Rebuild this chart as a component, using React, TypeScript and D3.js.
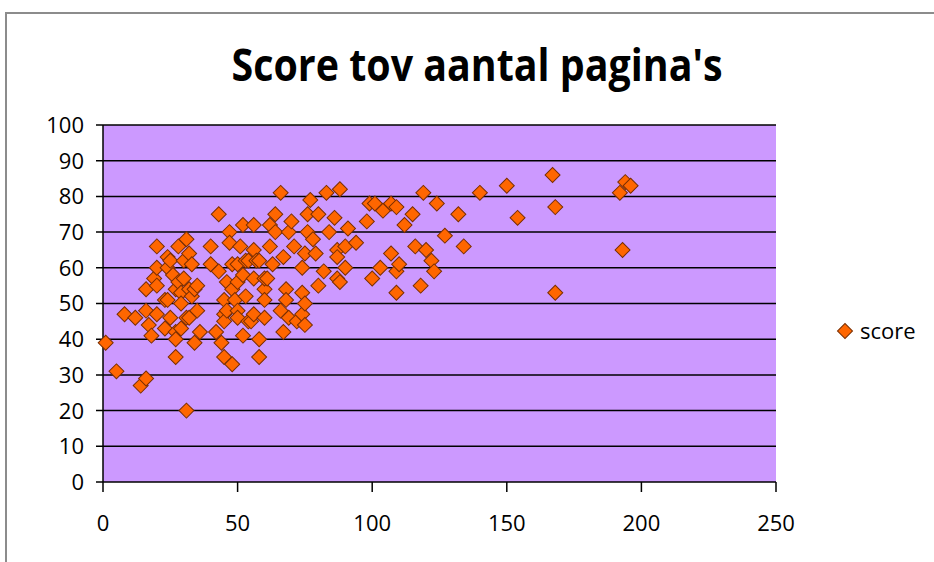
import React, { useEffect, useRef } from "react";
import * as d3 from "d3";

// number of pages per report
const pages = [
  1, 5, 8, 12, 14, 16, 16, 16, 17, 18, 19, 20, 20, 20, 20, 23, 23, 24, 24, 24,
  25, 25, 26, 27, 27, 27, 27, 28, 28, 29, 29, 29, 30, 30, 31, 31, 32, 32, 32, 33,
  33, 34, 34, 35, 35, 36, 31,
  40, 40, 42, 43, 43, 44, 45, 45, 45, 45, 46, 46, 47, 47, 48, 48, 48, 49, 50, 50,
  50, 50, 51, 52, 52, 52, 53, 53, 54, 54, 55, 56, 56, 56, 56, 57, 58, 58, 58, 60,
  60, 60, 60, 61, 62, 62, 63, 64, 64,
  66, 66, 67, 67, 68, 68, 69, 69, 70, 71, 72, 74, 74, 74, 75, 75, 75, 76, 76, 77,
  78, 79, 80, 80, 82, 83, 84, 86, 87, 87, 87, 88, 88, 90, 90, 91, 94, 98, 99, 101,
  100, 103, 104, 107, 107, 109, 109, 109, 110, 112, 115, 116, 118, 119, 120, 122,
  123, 124, 127, 132, 134, 140, 150, 154, 167, 168, 168, 192, 193, 194, 196,
];

// score for each report
const scores = [
  39, 31, 47, 46, 27, 29, 48, 54, 44, 41, 57, 66, 60, 55, 47, 43, 51, 63, 60, 51,
  46, 62, 58, 42, 40, 35, 54, 66, 56, 53, 50, 43, 62, 57, 68, 46, 64, 54, 46, 61,
  52, 54, 39, 55, 48, 42, 20,
  66, 61, 42, 75, 59, 39, 51, 47, 45, 35, 56, 48, 70, 67, 61, 54, 33, 51, 56, 48,
  46, 61, 66, 72, 58, 41, 62, 52, 62, 45, 45, 72, 65, 57, 47, 62, 40, 35, 62, 54,
  51, 57, 46, 57, 72, 66, 61, 75, 70,
  81, 48, 63, 42, 54, 51, 46, 70, 73, 66, 45, 60, 53, 47, 50, 44, 64, 75, 70, 79,
  68, 64, 75, 55, 59, 81, 70, 74, 65, 57, 63, 82, 56, 60, 66, 71, 67, 73, 78, 78,
  57, 60, 76, 78, 64, 77, 59, 53, 61, 72, 75, 66, 55, 81, 65, 62,
  59, 78, 69, 75, 66, 81, 83, 74, 86, 77, 53, 81, 65, 84, 83,
];

const xTicks = [0, 50, 100, 150, 200, 250];
const yTicks = [0, 10, 20, 30, 40, 50, 60, 70, 80, 90, 100];

const title = "Score tov aantal pagina's";
const seriesName = "score";

const App = () => {
  const svgRef = useRef<SVGSVGElement>(null);

  useEffect(() => {
    const width = 934;
    const height = 562;
    const plot = { left: 103, right: 776, top: 125, bottom: 482 };
    const font = "'Open Sans', 'Liberation Sans', sans-serif";

    const svg = d3.select(svgRef.current);
    svg.selectAll("*").remove();
    svg.attr("width", width).attr("height", height);

    svg.append("rect")
      .attr("width", width)
      .attr("height", height)
      .attr("fill", "#fff");

    // chart frame
    svg.append("path")
      .attr("d", `M6,${height} V13 H${width}`)
      .attr("fill", "none")
      .attr("stroke", "#8c8c8c")
      .attr("stroke-width", 2);

    const xScale = d3.scaleLinear()
      .domain([0, 250])
      .range([plot.left, plot.right]);
    const yScale = d3.scaleLinear()
      .domain([0, 100])
      .range([plot.bottom, plot.top]);

    // plot area
    svg.append("rect")
      .attr("x", plot.left)
      .attr("y", plot.top)
      .attr("width", plot.right - plot.left)
      .attr("height", plot.bottom - plot.top)
      .attr("fill", "#cc99ff");

    // gridlines + y ticks
    svg.append("g")
      .selectAll("line")
      .data(yTicks)
      .join("line")
      .attr("x1", plot.left - 7)
      .attr("x2", plot.right)
      .attr("y1", (d) => yScale(d))
      .attr("y2", (d) => yScale(d))
      .attr("stroke", "#000")
      .attr("stroke-width", 1.5);

    svg.append("g")
      .selectAll("text")
      .data(yTicks)
      .join("text")
      .attr("x", 84)
      .attr("y", (d) => yScale(d))
      .attr("dy", "0.36em")
      .attr("text-anchor", "end")
      .attr("font-family", font)
      .attr("font-size", 22)
      .text((d) => d);

    // axes lines
    svg.append("line")
      .attr("x1", plot.left)
      .attr("x2", plot.left)
      .attr("y1", plot.top)
      .attr("y2", plot.bottom)
      .attr("stroke", "#000")
      .attr("stroke-width", 1.5);

    svg.append("g")
      .selectAll("line")
      .data(xTicks)
      .join("line")
      .attr("x1", (d) => xScale(d))
      .attr("x2", (d) => xScale(d))
      .attr("y1", plot.bottom)
      .attr("y2", plot.bottom + 10)
      .attr("stroke", "#000")
      .attr("stroke-width", 1.5);

    svg.append("g")
      .selectAll("text")
      .data(xTicks)
      .join("text")
      .attr("x", (d) => xScale(d))
      .attr("y", 531)
      .attr("text-anchor", "middle")
      .attr("font-family", font)
      .attr("font-size", 22)
      .text((d) => d);

    // points
    const diamond = d3.symbol(d3.symbolSquare, 112)();
    const data = pages.map((p, i) => ({ x: p, y: scores[i] }));
    svg.append("g")
      .selectAll("path")
      .data(data)
      .join("path")
      .attr("d", diamond)
      .attr(
        "transform",
        (d) => `translate(${xScale(d.x)},${yScale(d.y)}) rotate(45)`
      )
      .attr("fill", "#ff6600")
      .attr("stroke", "#7a2e00")
      .attr("stroke-width", 1);

    // title
    svg.append("text")
      .attr("x", 477)
      .attr("y", 81)
      .attr("text-anchor", "middle")
      .attr("font-family", font)
      .attr("font-weight", "bold")
      .attr("font-size", 44)
      .attr("textLength", 491)
      .attr("lengthAdjust", "spacingAndGlyphs")
      .text(title);

    // legend
    svg.append("path")
      .attr("d", diamond)
      .attr("transform", "translate(845,331) rotate(45)")
      .attr("fill", "#ff6600")
      .attr("stroke", "#7a2e00");
    svg.append("text")
      .attr("x", 860)
      .attr("y", 339)
      .attr("font-family", font)
      .attr("font-size", 22)
      .text(seriesName);
  }, []);

  return (
    <svg
      ref={svgRef}
      style={{ position: "absolute", left: 0, top: 0 }}
    ></svg>
  );
};

export default App;
